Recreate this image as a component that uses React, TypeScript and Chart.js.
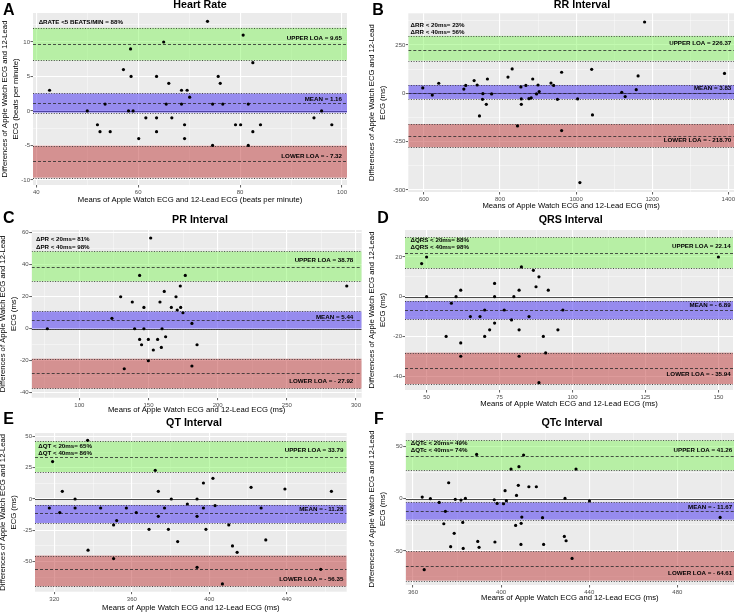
import React, { useEffect, useRef } from 'react';
import { Chart, registerables } from 'chart.js';

Chart.register(...registerables);

const FONT = '"Liberation Sans", Arial, Helvetica, sans-serif';
const FIG_W = 738;
const FIG_H = 613;

// ---------- A: Heart Rate ----------
const hrMeans = [42.6, 50, 52, 52.5, 53.5, 54.5, 57.1, 58.1, 58.5, 58.6, 59, 60.1, 61.5, 63.6, 63.6, 63.6, 65, 65.5, 66, 66.6, 68.5, 68.5, 69.1, 69.1, 69.6, 70.1, 73.6, 74.6, 74.6, 75.7, 76.1, 76.6, 79.1, 80.1, 80.6, 81.6, 81.6, 82.5, 82.5, 84, 94.5, 96, 98];
const hrDiffs = [3, 0, -2, -3, 1, -3, 6, 0, 9, 5, 0, -4, -1, 5, -1, -3, 10, 1, 4, -1, 3, 1, -2, -4, 3, 2, 13, 1, -5, 5, 4, 1, -2, -2, 11, 1, -5, 7, -3, -2, -1, 0, -2];
const hrLoa = [9.65, 1.16, -7.32];
const hrBandLo = [7.32, -0.24, -9.66];
const hrBandHi = [12.05, 2.54, -5.02];
const hrLoaText = ['UPPER LOA = 9.65', 'MEAN = 1.16', 'LOWER LOA = - 7.32'];
const hrLoaTextY = [10.6, 1.7, -6.6];
const hrNote = ['\u0394RATE <5 BEATS/MIN = 88%'];
const hrNoteY = [12.9];

// ---------- B: RR Interval ----------
const rrMeans = [597, 622, 639, 705, 710, 732, 740, 746, 754, 755, 764, 767, 778, 821, 832, 846, 855, 856, 856, 868, 876, 882, 886, 896, 900, 903, 934, 941, 951, 962, 962, 1004, 1010, 1041, 1043, 1120, 1129, 1158, 1163, 1180, 1390];
const rrDiffs = [28, -9, 52, 22, 41, 66, 43, -117, -31, -2, -57, 74, -3, 84, 126, -169, 33, -29, -57, 41, -28, -24, 74, -3, 43, 9, 53, 41, -31, 109, -193, -29, -462, 124, -112, 5, -17, 19, 90, 369, 103];
const rrLoa = [226.37, 3.83, -218.7];
const rrBandLo = [169, -29, -279];
const rrBandHi = [297, 43, -159];
const rrLoaText = ['UPPER LOA = 226.37', 'MEAN = 3.83', 'LOWER LOA = - 218.70'];
const rrLoaTextY = [258.6, 25.9, -244.8];
const rrNote = ['\u0394RR < 20ms= 23%', '\u0394RR < 40ms= 56%'];
const rrNoteY = [353, 314];

// ---------- C: PR Interval ----------
const prMeans = [76.9, 123.6, 129.9, 132.5, 138.3, 140, 143.6, 143.6, 145, 146.7, 146.7, 149.9, 149.9, 151.6, 153.5, 156.6, 158.3, 159.3, 159.8, 161.4, 162.4, 166.5, 169.9, 170.8, 173, 173.3, 174.9, 176.6, 181.4, 181.4, 185.1, 293.3];
const prDiffs = [0, 6.5, 20, -25, 16.7, 0, -6.7, 33.3, -10, 13.3, 0, -20, -6.7, 56.7, -13.3, -6.7, 16.7, -11.7, 0, 23.3, -5, 13.3, 20, 11.7, 26.7, 13.3, 10, 33.3, 3.3, -23.3, -10, 26.7];
const prLoa = [38.78, 5.44, -27.92];
const prBandLo = [29.6, 0.05, -37.3];
const prBandHi = [48.3, 10.8, -18.75];
const prLoaText = ['UPPER LOA = 38.78', 'MEAN = 5.44', 'LOWER LOA = - 27.92'];
const prLoaTextY = [42.7, 6.9, -32.7];
const prNote = ['\u0394PR < 20ms= 81%', '\u0394PR < 40ms= 98%'];
const prNoteY = [55.8, 51];

// ---------- D: QRS Interval ----------
const qrsMeans = [48.3, 50, 50, 56.7, 58.5, 60.1, 61.7, 61.7, 61.7, 65, 68.3, 69.9, 69.9, 71.6, 73.3, 73.3, 73.3, 76.6, 79.1, 79.9, 81.7, 81.7, 81.7, 82.5, 85.1, 86.6, 87.5, 88.5, 88.5, 90, 90.8, 91.7, 95, 96.7, 150];
const qrsDiffs = [16.7, 20, 0, -20, -3.3, 0, 3.3, -23.3, -30, -10, -10, -6.7, -20, -16.7, 6.7, 0, -13.3, -6.7, -11.7, 0, 3.3, -16.7, -30, 15, -10, 13.3, 5, 10, -43.3, -20, -28.3, 3.3, -16.7, -6.7, 20];
const qrsLoa = [22.14, -6.89, -35.94];
const qrsBandLo = [14.3, -11.4, -44];
const qrsBandHi = [29.9, -2.2, -28.2];
const qrsLoaText = ['UPPER LOA = 22.14', 'MEAN = - 6.89', 'LOWER LOA = - 35.94'];
const qrsLoaTextY = [25.2, -4.2, -39.2];
const qrsNote = ['\u0394QRS < 20ms= 88%', '\u0394QRS < 40ms= 98%'];
const qrsNoteY = [28.6, 24.7];

// ---------- E: QT Interval ----------
const qtMeans = [317.4, 319.1, 322.8, 324.1, 330.7, 330.7, 337.2, 337.4, 343.9, 350.6, 350.6, 352.2, 357.2, 362.3, 368.9, 372.1, 373.7, 373.7, 376.9, 378.9, 380.4, 383.7, 388.7, 393.7, 393.7, 393.7, 397, 397, 398.3, 401.9, 403, 406.8, 410.1, 412, 414.4, 421.6, 426.8, 429.2, 439.1, 457.6, 463.1];
const qtDiffs = [-7.2, 29.9, -10.9, 6.1, 0, -7.2, 46.9, -41, -7.2, -20.8, -47.7, -17.3, -7.2, -10.9, -24.3, 22.9, 6.1, -13.9, -7.2, -24.3, 0, -34.1, -4, 0, -13.9, -54.7, 12.8, -7.2, -24.3, 16.5, -5.3, -68, -20.8, -37.6, -42.7, 9.3, -7.2, -32.8, 8, -56.3, 6.1];
const qtLoa = [33.79, -11.28, -56.35];
const qtBandLo = [21.6, -19.2, -69.9];
const qtBandHi = [46.1, -4.8, -45.3];
const qtLoaText = ['UPPER LOA = 33.79', 'MEAN = - 11.28', 'LOWER LOA = - 56.35'];
const qtLoaTextY = [38.7, -8, -64.5];
const qtNote = ['\u0394QT < 20ms= 65%', '\u0394QT < 40ms= 86%'];
const qtNoteY = [42.1, 36.3];

// ---------- F: QTc Interval ----------
const qtcMeans = [364.2, 365.1, 367.9, 371.9, 374, 374.7, 376.2, 377.1, 378.7, 379.2, 381.8, 382.6, 382.8, 383.8, 388.9, 389.4, 390, 396.9, 397.2, 398.2, 401.1, 401.8, 402.4, 404.5, 406.6, 407, 407.8, 408.1, 409, 409.1, 409.4, 410.2, 412.6, 416, 418.8, 419.3, 428.7, 429, 429.5, 432.2, 434, 440.1, 499.4];
const qtcDiffs = [1.6, -68, 0, -3.5, -24, -12.1, 15.3, -46, -33.2, -0.6, -1.3, -22.7, -47.6, 0.3, 42.5, -40.9, -46.6, -1, -41.5, -4.5, -4.8, 7.7, -1.9, 28.4, -25.6, 3.2, 12.8, 30.7, -43.8, -23.6, -17.6, 41.9, 11.5, 11.5, -18.2, -43.8, -36.1, 0.3, -40.3, -57.2, 28.4, -2.2, -17.9];
const qtcLoa = [41.26, -11.67, -64.61];
const qtcBandLo = [27.2, -20.1, -78.5];
const qtcBandHi = [55.9, -3.5, -50.5];
const qtcLoaText = ['UPPER LOA = 41.26', 'MEAN = - 11.67', 'LOWER LOA = - 64.61'];
const qtcLoaTextY = [46, -8.3, -71.2];
const qtcNote = ['\u0394QTc < 20ms= 49%', '\u0394QTc < 40ms= 74%'];
const qtcNoteY = [53.4, 46];

const Y_TITLE_MS = ['Differences of Apple Watch ECG and 12-Lead', 'ECG (ms)'];
const X_TITLE_MS = 'Means of Apple Watch ECG and 12-Lead ECG (ms)';

type Panel = {
  letter: string; title: string;
  means: number[]; diffs: number[];
  loa: number[]; lo: number[]; hi: number[];
  loaText: string[]; loaTextY: number[]; loaTextX: number;
  note: string[]; noteY: number[]; noteX: number;
  xTicks: number[]; xMinor: number[]; yTicks: number[]; yMinor: number[];
  xRange: number[]; yRange: number[];
  xTitle: string; yTitle: string[];
  rect: number[]; yTitleX: number; xTitleY: number;
  titlePos: number[]; letterPos: number[];
};

const panels: Panel[] = [
  {
    letter: 'A', title: 'Heart Rate', means: hrMeans, diffs: hrDiffs,
    loa: hrLoa, lo: hrBandLo, hi: hrBandHi, loaText: hrLoaText, loaTextY: hrLoaTextY, loaTextX: 100,
    note: hrNote, noteY: hrNoteY, noteX: 40.46,
    xTicks: [40, 60, 80, 100], xMinor: [50, 70, 90],
    yTicks: [-10, -5, 0, 5, 10], yMinor: [-7.5, -2.5, 2.5, 7.5, 12.5],
    xRange: [39.35, 100.98], yRange: [-10.73, 14.2],
    xTitle: 'Means of Apple Watch ECG and 12-Lead ECG (beats per minute)',
    yTitle: ['Differences of Apple Watch ECG and 12-Lead', 'ECG (beats per minute)'],
    rect: [33, 13, 347, 185], yTitleX: 5, xTitleY: 199.5, titlePos: [200, 5], letterPos: [3, 15],
  },
  {
    letter: 'B', title: 'RR Interval', means: rrMeans, diffs: rrDiffs,
    loa: rrLoa, lo: rrBandLo, hi: rrBandHi, loaText: rrLoaText, loaTextY: rrLoaTextY, loaTextX: 1407.8,
    note: rrNote, noteY: rrNoteY, noteX: 565,
    xTicks: [600, 800, 1000, 1200, 1400], xMinor: [700, 900, 1100, 1300],
    yTicks: [-500, -250, 0, 250], yMinor: [-375, -125, 125, 375],
    xRange: [559, 1415], yRange: [-510.6, 413.9],
    xTitle: X_TITLE_MS, yTitle: Y_TITLE_MS,
    rect: [408.3, 13.3, 735.7, 192], yTitleX: 372.3, xTitleY: 206, titlePos: [582, 5], letterPos: [372.3, 15],
  },
  {
    letter: 'C', title: 'PR Interval', means: prMeans, diffs: prDiffs,
    loa: prLoa, lo: prBandLo, hi: prBandHi, loaText: prLoaText, loaTextY: prLoaTextY, loaTextX: 298,
    note: prNote, noteY: prNoteY, noteX: 68.7,
    xTicks: [100, 150, 200, 250, 300], xMinor: [75, 125, 175, 225, 275],
    yTicks: [-40, -20, 0, 20, 40, 60], yMinor: [-30, -10, 10, 30, 50],
    xRange: [65.6, 304.1], yRange: [-43.1, 61.7],
    xTitle: X_TITLE_MS, yTitle: Y_TITLE_MS,
    rect: [31.7, 230, 361.7, 397.7], yTitleX: 3.3, xTitleY: 410, titlePos: [200, 220.2], letterPos: [3, 223.3],
  },
  {
    letter: 'D', title: 'QRS Interval', means: qrsMeans, diffs: qrsDiffs,
    loa: qrsLoa, lo: qrsBandLo, hi: qrsBandHi, loaText: qrsLoaText, loaTextY: qrsLoaTextY, loaTextX: 154.2,
    note: qrsNote, noteY: qrsNoteY, noteX: 44.5,
    xTicks: [50, 75, 100, 125, 150], xMinor: [62.5, 87.5, 112.5, 137.5],
    yTicks: [-40, -20, 0, 20], yMinor: [-30, -10, 10, 30],
    xRange: [42.6, 155], yRange: [-47, 33.6],
    xTitle: X_TITLE_MS, yTitle: Y_TITLE_MS,
    rect: [405, 230, 733, 390], yTitleX: 372.3, xTitleY: 404, titlePos: [570.7, 220.2], letterPos: [377.3, 223.3],
  },
  {
    letter: 'E', title: 'QT Interval', means: qtMeans, diffs: qtDiffs,
    loa: qtLoa, lo: qtBandLo, hi: qtBandHi, loaText: qtLoaText, loaTextY: qtLoaTextY, loaTextX: 469.3,
    note: qtNote, noteY: qtNoteY, noteX: 311.7,
    xTicks: [320, 360, 400, 440], xMinor: [340, 380, 420, 460],
    yTicks: [-50, -25, 0, 25, 50], yMinor: [-62.5, -37.5, -12.5, 12.5, 37.5],
    xRange: [310, 471], yRange: [-74.2, 52.8],
    xTitle: X_TITLE_MS, yTitle: Y_TITLE_MS,
    rect: [35, 433, 346.7, 591.7], yTitleX: 3.3, xTitleY: 608, titlePos: [194, 423], letterPos: [3.3, 424],
  },
  {
    letter: 'F', title: 'QTc Interval', means: qtcMeans, diffs: qtcDiffs,
    loa: qtcLoa, lo: qtcBandLo, hi: qtcBandHi, loaText: qtcLoaText, loaTextY: qtcLoaTextY, loaTextX: 504.9,
    note: qtcNote, noteY: qtcNoteY, noteX: 359,
    xTicks: [360, 400, 440, 480], xMinor: [380, 420, 460, 500],
    yTicks: [-50, 0, 50], yMinor: [-75, -25, 25],
    xRange: [356.7, 505.7], yRange: [-82.7, 63],
    xTitle: X_TITLE_MS, yTitle: Y_TITLE_MS,
    rect: [405.7, 433, 737.3, 585], yTitleX: 372.3, xTitleY: 598, titlePos: [572, 423], letterPos: [374, 424],
  },
];

const BAND_FILL = ['rgba(120,245,80,0.45)', 'rgba(80,60,240,0.55)', 'rgba(190,55,55,0.5)'];

function makeDecor(p: Panel) {
  return {
    id: 'decor' + p.letter,
    beforeDraw(chart: any) {
      const { ctx, chartArea: a } = chart;
      ctx.save();
      ctx.fillStyle = '#EBEBEB';
      ctx.fillRect(a.left, a.top, a.right - a.left, a.bottom - a.top);
      ctx.restore();
    },
    beforeDatasetsDraw(chart: any) {
      const { ctx, chartArea: a } = chart;
      const y = chart.scales.y;
      ctx.save();
      ctx.beginPath();
      ctx.rect(a.left, a.top, a.right - a.left, a.bottom - a.top);
      ctx.clip();
      const hline = (v: number, color: string, width: number, dash: number[]) => {
        const py = Math.round(y.getPixelForValue(v)) + 0.5;
        ctx.beginPath();
        ctx.setLineDash(dash);
        ctx.strokeStyle = color;
        ctx.lineWidth = width;
        ctx.moveTo(a.left, py);
        ctx.lineTo(a.right, py);
        ctx.stroke();
      };
      hline(0, '#4a4a4a', 1, []);
      p.loa.forEach((v, i) => {
        const top = y.getPixelForValue(p.hi[i]);
        const bot = y.getPixelForValue(p.lo[i]);
        ctx.fillStyle = BAND_FILL[i];
        ctx.fillRect(a.left, top, a.right - a.left, bot - top);
        hline(p.hi[i], '#3a3a3a', 0.9, [1, 1.6]);
        hline(p.lo[i], '#3a3a3a', 0.9, [1, 1.6]);
        hline(v, '#2a2a2a', 0.8, [3, 2]);
      });
      ctx.restore();
    },
    afterDatasetsDraw(chart: any) {
      const { ctx } = chart;
      const x = chart.scales.x;
      const y = chart.scales.y;
      ctx.save();
      ctx.font = `bold 6.2px ${FONT}`;
      ctx.fillStyle = '#000';
      ctx.textBaseline = 'middle';
      ctx.textAlign = 'right';
      p.loaText.forEach((t, i) => ctx.fillText(t, x.getPixelForValue(p.loaTextX), y.getPixelForValue(p.loaTextY[i])));
      ctx.textAlign = 'left';
      p.note.forEach((t, i) => ctx.fillText(t, x.getPixelForValue(p.noteX), y.getPixelForValue(p.noteY[i])));
      ctx.restore();
    },
    afterDraw(chart: any) {
      const { ctx } = chart;
      ctx.save();
      ctx.fillStyle = '#000';
      ctx.font = `bold 10.7px ${FONT}`;
      ctx.textAlign = 'center';
      ctx.textBaseline = 'middle';
      ctx.fillText(p.title, p.titlePos[0], p.titlePos[1]);
      ctx.font = `bold 16px ${FONT}`;
      ctx.textAlign = 'left';
      ctx.textBaseline = 'alphabetic';
      ctx.fillText(p.letter, p.letterPos[0], p.letterPos[1]);
      ctx.restore();
    },
  };
}

function buildChart(canvas: HTMLCanvasElement, p: Panel) {
  const [L, T, R, B] = p.rect;
  const lh = 10.5;
  const boxLeft = Math.max(0, p.yTitleX - lh / 2);
  const titlePad = p.yTitleX - lh / 2 - boxLeft;
  const yW = L - boxLeft;
  const xH = p.xTitleY + lh / 2 - B;
  const majX = (v: number) => p.xTicks.includes(v);
  const majY = (v: number) => p.yTicks.includes(v);
  const gridFor = (isMaj: (v: number) => boolean) => ({
    color: (c: any) => (c.tick && isMaj(c.tick.value) ? '#FFFFFF' : 'rgba(255,255,255,0.8)'),
    lineWidth: (c: any) => (c.tick && isMaj(c.tick.value) ? 1.1 : 0.5),
    tickColor: (c: any) => (c.tick && isMaj(c.tick.value) ? '#333333' : 'rgba(0,0,0,0)'),
    tickLength: 2.5,
    tickWidth: 0.8,
    drawTicks: true,
  });
  const tickFont = { family: FONT, size: 6 };
  const titleFont = { family: FONT, size: 7.7, lineHeight: lh + 'px' };
  return new Chart(canvas, {
    type: 'scatter',
    data: {
      datasets: [{
        data: p.means.map((m, i) => ({ x: m, y: p.diffs[i] })),
        backgroundColor: '#000000',
        borderColor: '#000000',
        borderWidth: 0,
        pointRadius: 1.6,
      }],
    },
    options: {
      responsive: false,
      animation: false,
      events: [],
      layout: { padding: { left: boxLeft, top: T, right: FIG_W - R, bottom: FIG_H - B - xH } },
      plugins: { legend: { display: false }, tooltip: { enabled: false }, title: { display: false } },
      scales: {
        x: {
          type: 'linear', position: 'bottom', min: p.xRange[0], max: p.xRange[1],
          afterBuildTicks: (s: any) => {
            s.ticks = [...p.xTicks, ...p.xMinor].sort((a, b) => a - b).map((v) => ({ value: v }));
          },
          afterFit: (s: any) => { s.height = xH; s.paddingLeft = 0; s.paddingRight = 0; },
          ticks: {
            autoSkip: false, maxRotation: 0, minRotation: 0, padding: 1.5, color: '#4D4D4D', font: tickFont,
            callback: (v: any) => (majX(Number(v)) ? String(v) : ''),
          },
          grid: gridFor(majX),
          border: { display: false },
          title: { display: true, text: p.xTitle, color: '#000000', font: titleFont, padding: 0 },
        },
        y: {
          type: 'linear', position: 'left', min: p.yRange[0], max: p.yRange[1],
          afterBuildTicks: (s: any) => {
            s.ticks = [...p.yTicks, ...p.yMinor].sort((a, b) => a - b).map((v) => ({ value: v }));
          },
          afterFit: (s: any) => { s.width = yW; s.paddingTop = 0; s.paddingBottom = 0; },
          ticks: {
            autoSkip: false, padding: 0.5, color: '#4D4D4D', font: tickFont,
            callback: (v: any) => (majY(Number(v)) ? String(v) : ''),
          },
          grid: gridFor(majY),
          border: { display: false },
          title: { display: true, text: p.yTitle, color: '#000000', font: titleFont, padding: { top: titlePad, bottom: 0 } },
        },
      },
    },
    plugins: [makeDecor(p)],
  } as any);
}

function PanelCanvas({ p }: { p: Panel }) {
  const ref = useRef<HTMLCanvasElement>(null);
  useEffect(() => {
    if (!ref.current) return;
    const chart = buildChart(ref.current, p);
    return () => chart.destroy();
  }, [p]);
  return (
    <canvas
      ref={ref}
      width={FIG_W}
      height={FIG_H}
      style={{ position: 'absolute', left: 0, top: 0, width: FIG_W, height: FIG_H }}
    />
  );
}

export default function App() {
  return (
    <div style={{ position: 'absolute', left: 0, top: 0, width: FIG_W, height: FIG_H, background: '#ffffff', overflow: 'hidden' }}>
      {panels.map((p) => (
        <PanelCanvas key={p.letter} p={p} />
      ))}
    </div>
  );
}
